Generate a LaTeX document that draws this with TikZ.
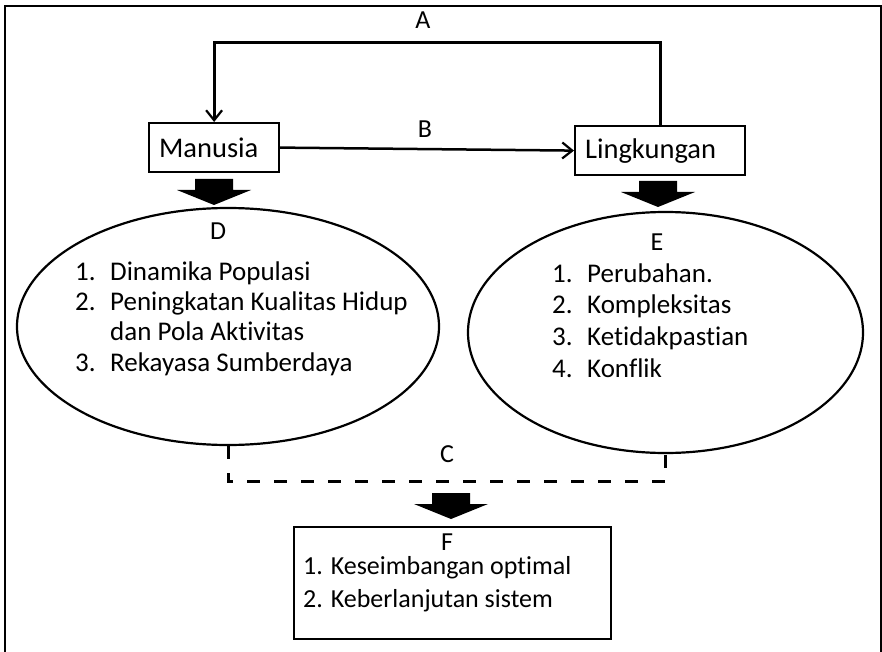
\documentclass[tikz,border=0pt]{standalone}
\usepackage{fontspec}
\setmainfont{Carlito}[Ligatures=NoCommon]
\usetikzlibrary{arrows.meta,shapes.geometric}
\begin{document}
\begin{tikzpicture}[x=1pt,y=-1pt,
  every node/.style={inner sep=0pt, font=\fontsize{26}{31}\selectfont},
  labelbox/.style={draw, line width=2.2pt, minimum height=49pt, inner xsep=10pt,
    anchor=north west, align=left, font=\fontsize{28.5}{34}\selectfont},
  plainbox/.style={draw, line width=2.2pt, anchor=north west},
  oval/.style={draw, ellipse, line width=2.2pt},
  item/.style={anchor=base west},
  listitem/.style={anchor=base west, font=\fontsize{27}{32}\selectfont},
  tag/.style={anchor=base},
  flow/.style={line width=2.5pt, -{Straight Barb[length=10pt,width=16pt,line width=2.2pt]}},
  dashline/.style={line width=3pt, dash pattern=on 13pt off 14pt},
  downblock/.pic={\fill (-19,0) -- (19,0) -- (19,11) -- (37,11) -- (0,26)
                        -- (-37,11) -- (-19,11) -- cycle;}
]
\useasboundingbox (0,0) rectangle (882,652);

% outer frame
\draw[line width=2.8pt] (5,652) -- (5,6) -- (881,6) -- (881,652);

% the two actors
\node[labelbox, text width=110pt] (man) at (148,122) {Manusia};
\node[labelbox, text width=150pt] (lin) at (574,125) {Lingkungan};

% feedback A and interaction B
\draw[flow, line width=3pt] (lin.north) -- (lin.north |- 0,43) -| (man.north);
\node[tag] (tA) at (423,29) {A};
\draw[flow] (man.east) -- (lin.west);
\node[tag] (tB) at (425,138) {B};

% ellipses
\node[oval, minimum width=422pt, minimum height=237pt] (D) at (228,326.5) {};
\node[oval, minimum width=395pt, minimum height=241pt] (E) at (665.5,332.5) {};

\pic at (214,179) {downblock};
\pic at (658,181) {downblock};

% contents of D
\node[tag] (tD) at (218,239) {D};
\node[listitem] (d1n) at (75,280) {1.};
\node[listitem] (d1)  at (110,280) {Dinamika Populasi};
\node[listitem] (d2n) at (75,310) {2.};
\node[listitem] (d2)  at (110,310) {Peningkatan Kualitas Hidup};
\node[listitem] (d2b) at (110,340) {dan Pola Aktivitas};
\node[listitem] (d3n) at (75,371) {3.};
\node[listitem] (d3)  at (110,371) {Rekayasa Sumberdaya};

% contents of E
\node[tag] (tE) at (657,250) {E};
\node[listitem] (e1n) at (552,282) {1.};
\node[listitem] (e1)  at (587,282) {Perubahan.};
\node[listitem] (e2n) at (552,313) {2.};
\node[listitem] (e2)  at (587,313) {Kompleksitas};
\node[listitem] (e3n) at (552,345) {3.};
\node[listitem] (e3)  at (587,345) {Ketidakpastian};
\node[listitem] (e4n) at (552,377) {4.};
\node[listitem] (e4)  at (587,377) {Konflik};

% combined link C
\draw[dashline] (D.south) -- ++(0,35) -| (E.south);
\node[tag] (tC) at (447,462) {C};
\pic at (451,493) {downblock};

% outcome F
\node[plainbox, minimum width=317pt, minimum height=112pt] (F) at (293,526) {};
\node[tag] (tF) at (447,550) {F};
\node[item] (f1) at (303,574) {1. Keseimbangan optimal};
\node[item] (f2) at (303,607) {2. Keberlanjutan sistem};
\end{tikzpicture}
\end{document}
